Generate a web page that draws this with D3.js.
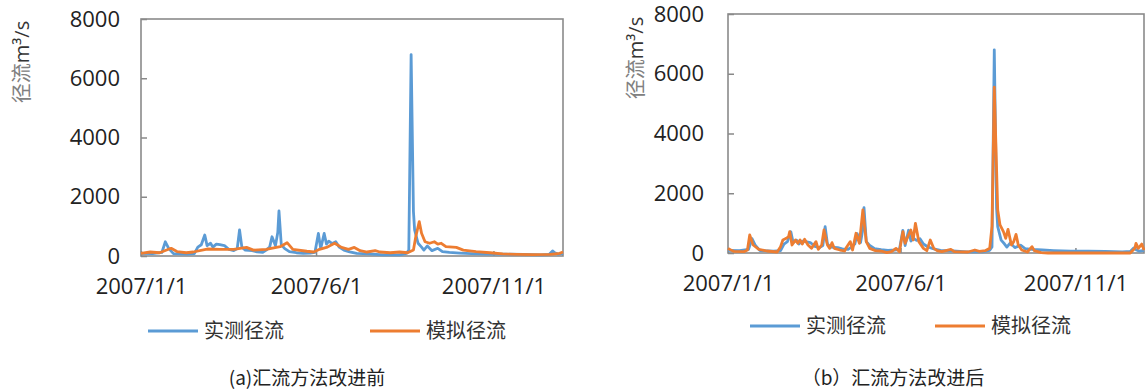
<!DOCTYPE html>
<html>
<head>
<meta charset="utf-8">
<script src="https://cdn.jsdelivr.net/npm/d3@7"></script>
<style>
  body { margin: 0; background: #fff; }
  svg { display: block; }
  .tick text { font-family: "Open Sans", sans-serif; font-size: 22px; fill: #222; }
  .cjk { font-family: "Noto Sans CJK SC", sans-serif; }
</style>
</head>
<body>
<svg id="chart" width="1145" height="392"></svg>
<script>
// observed runoff (same in both panels)
const obsDates = ['2007/1/1','2007/1/11','2007/1/19','2007/1/22','2007/1/25','2007/1/29','2007/2/10','2007/2/16','2007/2/19','2007/2/22','2007/2/25','2007/2/27','2007/3/2','2007/3/4','2007/3/7','2007/3/10','2007/3/14','2007/3/18','2007/3/22','2007/3/25','2007/3/27','2007/3/29','2007/4/1','2007/4/7','2007/4/11','2007/4/16','2007/4/19','2007/4/22','2007/4/24','2007/4/27','2007/4/29','2007/4/30','2007/5/2','2007/5/5','2007/5/9','2007/5/15','2007/5/21','2007/5/27','2007/5/31','2007/6/3','2007/6/5','2007/6/8','2007/6/10','2007/6/12','2007/6/15','2007/6/18','2007/6/21','2007/6/25','2007/6/30','2007/7/6','2007/7/17','2007/7/29','2007/8/12','2007/8/18','2007/8/20','2007/8/22','2007/8/24','2007/8/25','2007/8/28','2007/8/31','2007/9/2','2007/9/5','2007/9/9','2007/9/14','2007/9/18','2007/9/24','2007/10/3','2007/10/13','2007/10/28','2007/11/12','2007/11/27','2007/12/12','2007/12/19','2007/12/22','2007/12/24','2007/12/27','2007/12/31'];
const obsValues = [90,80,120,480,250,80,60,80,300,380,710,350,430,300,400,380,350,220,180,250,880,300,200,180,140,120,200,300,650,350,800,1520,380,250,150,110,90,100,120,760,250,760,400,500,420,480,300,200,140,90,70,40,40,90,200,6800,1500,880,430,300,200,340,180,260,150,120,100,80,60,60,50,40,50,170,110,60,90];

// simulated runoff, before improvement (a)
const simADates = ['2007/1/1','2007/1/9','2007/1/17','2007/1/27','2007/2/1','2007/2/9','2007/2/15','2007/2/27','2007/3/10','2007/3/22','2007/4/2','2007/4/8','2007/4/19','2007/5/1','2007/5/7','2007/5/12','2007/5/24','2007/5/30','2007/6/4','2007/6/10','2007/6/17','2007/6/23','2007/6/29','2007/7/4','2007/7/9','2007/7/15','2007/7/22','2007/7/26','2007/8/4','2007/8/12','2007/8/19','2007/8/24','2007/8/26','2007/8/29','2007/8/31','2007/9/3','2007/9/7','2007/9/11','2007/9/14','2007/9/17','2007/9/21','2007/9/30','2007/10/6','2007/10/17','2007/10/29','2007/11/9','2007/11/21','2007/12/5','2007/12/20','2007/12/28','2007/12/31'];
const simAValues = [90,135,110,260,150,110,135,236,225,225,290,200,225,315,450,225,160,135,225,290,430,290,225,290,180,135,180,135,110,135,110,200,650,1160,765,480,430,480,400,430,315,290,200,145,110,70,55,45,55,90,135];

// simulated runoff, after improvement (b)
const simBDates = ['2007/1/1','2007/1/3','2007/1/6','2007/1/15','2007/1/18','2007/1/20','2007/1/23','2007/1/28','2007/2/4','2007/2/13','2007/2/16','2007/2/18','2007/2/21','2007/2/23','2007/2/24','2007/2/26','2007/3/1','2007/3/3','2007/3/5','2007/3/7','2007/3/9','2007/3/12','2007/3/15','2007/3/19','2007/3/21','2007/3/24','2007/3/26','2007/3/29','2007/3/31','2007/4/2','2007/4/4','2007/4/9','2007/4/13','2007/4/15','2007/4/18','2007/4/20','2007/4/23','2007/4/26','2007/4/29','2007/5/2','2007/5/5','2007/5/10','2007/5/15','2007/5/20','2007/5/24','2007/5/28','2007/5/31','2007/6/3','2007/6/5','2007/6/8','2007/6/10','2007/6/12','2007/6/14','2007/6/17','2007/6/21','2007/6/24','2007/6/27','2007/6/30','2007/7/3','2007/7/7','2007/7/15','2007/7/18','2007/7/30','2007/8/5','2007/8/9','2007/8/14','2007/8/18','2007/8/20','2007/8/22','2007/8/25','2007/8/27','2007/8/30','2007/9/1','2007/9/3','2007/9/6','2007/9/8','2007/9/10','2007/9/12','2007/9/15','2007/9/20','2007/9/24','2007/9/26','2007/10/2','2007/10/8','2007/12/19','2007/12/23','2007/12/24','2007/12/26','2007/12/29','2007/12/31'];
const simBValues = [156,110,56,45,100,603,268,123,67,34,212,435,490,547,715,268,435,324,435,300,458,268,156,380,123,268,770,268,156,346,156,100,67,212,380,100,660,324,1440,380,156,78,67,11,45,156,45,715,324,603,770,435,994,380,156,78,435,156,78,45,123,45,34,100,56,78,156,900,5550,1440,938,715,490,793,268,380,625,268,100,34,212,78,11,0,0,156,324,156,300,100];

const yTicks = [0, 2000, 4000, 6000, 8000];
const xTickLabels = ['2007/1/1', '2007/6/1', '2007/11/1'];
const seriesNames = ['实测径流', '模拟径流'];
const captions = ['(a)汇流方法改进前', '（b）汇流方法改进后'];

const parse = d3.timeParse('%Y/%m/%d');
const BLUE = '#5B9BD5', ORANGE = '#ED7D31';

const svg = d3.select('#chart');

function zip(dates, values) {
  return dates.map((d, i) => ({ date: parse(d), value: values[i] }));
}

function drawPanel(p) {
  const x = d3.scaleTime()
    .domain([parse('2007/1/1'), parse('2007/12/31')])
    .range([p.left, p.right]);
  const y = d3.scaleLinear()
    .domain([0, 8000])
    .range([p.bottom, p.top]);

  const g = svg.append('g');

  // y axis with small inside ticks
  const yAxis = g.append('g')
    .attr('transform', `translate(${p.left},0)`)
    .call(d3.axisLeft(y).tickValues(yTicks).tickFormat(d3.format('d'))
      .tickSizeInner(-6).tickSizeOuter(0).tickPadding(p.yPad));
  yAxis.select('.domain').remove();
  yAxis.selectAll('.tick line').attr('stroke', '#888').attr('stroke-width', 1.5);

  const xAxis = g.append('g')
    .attr('transform', `translate(0,${p.bottom})`)
    .call(d3.axisBottom(x)
      .tickValues(xTickLabels.map(parse))
      .tickFormat((d, i) => xTickLabels[i])
      .tickSizeInner(-5).tickSizeOuter(0).tickPadding(22));
  xAxis.select('.domain').remove();
  xAxis.selectAll('.tick line').attr('stroke', '#888').attr('stroke-width', 1.5);

  // plot border
  g.append('rect')
    .attr('x', p.left).attr('y', p.top)
    .attr('width', p.right - p.left).attr('height', p.bottom - p.top)
    .attr('fill', 'none').attr('stroke', '#8a8a8a').attr('stroke-width', 1.6);

  const line = d3.line()
    .x(d => x(d.date))
    .y(d => y(d.value));

  g.append('path')
    .datum(zip(obsDates, obsValues))
    .attr('d', line)
    .attr('fill', 'none').attr('stroke', BLUE).attr('stroke-width', 2.8)
    .attr('stroke-linejoin', 'round');

  g.append('path')
    .datum(p.sim)
    .attr('d', line)
    .attr('fill', 'none').attr('stroke', ORANGE).attr('stroke-width', 2.8)
    .attr('stroke-linejoin', 'round');

  // y label
  const yl = g.append('text')
    .attr('class', 'cjk')
    .attr('transform', `translate(${p.yLabelX},${p.yLabelY}) rotate(-90)`)
    .attr('text-anchor', 'middle')
    .attr('dy', '0.35em')
    .attr('font-size', 20);
  yl.append('tspan').attr('fill', '#808080').text('径流');
  yl.append('tspan').attr('fill', '#333')
    .style('font-family', '"Open Sans", sans-serif').text('m³/s');

  // legend
  const colors = [BLUE, ORANGE];
  seriesNames.forEach((name, i) => {
    const lx = p.legendX[i];
    g.append('line')
      .attr('x1', lx).attr('x2', lx + 50)
      .attr('y1', p.legendY).attr('y2', p.legendY)
      .attr('stroke', colors[i]).attr('stroke-width', 3);
    g.append('text')
      .attr('class', 'cjk')
      .attr('x', lx + 56).attr('y', p.legendY)
      .attr('dy', '0.35em')
      .attr('font-size', 20)
      .attr('fill', '#333')
      .text(name);
  });

  // caption
  g.append('text')
    .attr('class', 'cjk')
    .attr('x', p.captionX).attr('y', 378)
    .attr('dy', '0.35em')
    .attr('text-anchor', 'middle')
    .attr('font-size', 19)
    .attr('fill', '#222')
    .text(p.caption);
}

drawPanel({
  left: 141, right: 563, top: 19, bottom: 256, yPad: 21,
  sim: zip(simADates, simAValues),
  yLabelX: 22, yLabelY: 62,
  legendX: [148, 370], legendY: 331,
  captionX: 307, caption: captions[0]
});

drawPanel({
  left: 728, right: 1144, top: 14, bottom: 253, yPad: 24,
  sim: zip(simBDates, simBValues),
  yLabelX: 636, yLabelY: 58,
  legendX: [750, 935], legendY: 326,
  captionX: 893, caption: captions[1]
});
</script>
</body>
</html>
